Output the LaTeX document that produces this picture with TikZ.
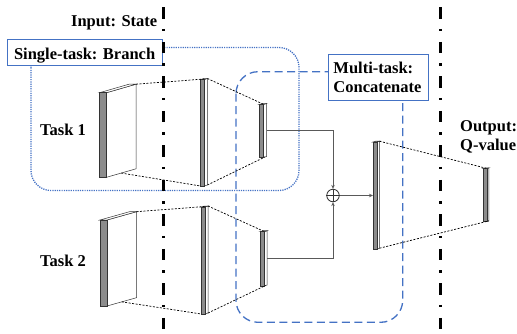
\documentclass[tikz,border=0pt]{standalone}
\usepackage{fontspec}
\setmainfont{Liberation Serif}
\usetikzlibrary{arrows.meta}

\definecolor{office}{HTML}{4472C4}
\newcommand{\headfont}{\fontsize{16.5}{19}\selectfont\bfseries}

\tikzset{
    divider/.style = {
        line width=3pt,
        black,
        dash pattern=on 11.5pt off 10pt on 2.5pt off 10.5pt
    },
    proj/.style = {
        line width=0.7pt,
        black,
        dash pattern=on 2pt off 1.5pt
    },
    wire/.style = {
        line width=0.8pt,
        black!65
    },
    single/.style = {
        line width=1.3pt,
        office,
        dash pattern=on 1.2pt off 1.1pt
    },
    multi/.style = {
        line width=1.3pt,
        office,
        dash pattern=on 8pt off 4.5pt
    },
    tag/.style = {
        draw=office,
        line width=0.9pt,
        fill=white,
        inner sep=0pt,
        font=\headfont
    },
    heading/.style = {
        inner sep=0pt,
        font=\headfont
    },
    slabfront/.style = {
        fill=black!45,
        draw=black!80,
        line width=0.5pt
    },
    slabside/.style = {
        fill=white,
        draw=black!80,
        line width=0.5pt
    }
}

% name, x, top y, width, height, depth dx, depth rise
\newcommand{\slab}[7]{%
    \filldraw[slabside] (#2+#4,#3) -- (#2+#4+#6,#3-#7) -- (#2+#4+#6,#3+#5-#7) -- (#2+#4,#3+#5) -- cycle;
    \filldraw[slabside] (#2,#3) -- (#2+#6,#3-#7) -- (#2+#4+#6,#3-#7) -- (#2+#4,#3) -- cycle;
    \filldraw[slabfront] (#2,#3) rectangle (#2+#4,#3+#5);
    \coordinate (#1-tm) at (#2+#4/2+#6/2,#3-#7/2);
    \coordinate (#1-tr) at (#2+#4+#6,#3-#7);
    \coordinate (#1-bl) at (#2,#3+#5);
    \coordinate (#1-bm) at (#2+#4+#6/2,#3+#5-#7/2);
    \coordinate (#1-br) at (#2+#4+#6,#3+#5-#7);
    \coordinate (#1-e) at (#2+#4+#6,#3+#5/2-#7/2);
    \coordinate (#1-w) at (#2,#3+#5/2);
}

\begin{document}
\begin{tikzpicture}[x=1pt,y=-1pt]
    \useasboundingbox (0,0) rectangle (517,333);

    % Draw the groupings
    \draw[single, rounded corners=20pt] (31,47.5) rectangle (299,190.5);
    \draw[multi, rounded corners=22pt] (236,71.7) rectangle (402.7,322.3);

    % Draw all layers
    \slab{inA}{99.5}{92.7}{7}{84.6}{29.5}{8.5}
    \slab{midA}{200.7}{79.5}{3.5}{106.5}{3.2}{1}
    \slab{smA}{259.3}{104.5}{4}{53}{3.2}{1}
    \slab{inB}{100}{220}{7}{86}{29.5}{8.3}
    \slab{midB}{201.3}{207}{3.5}{107}{3.2}{1}
    \slab{smB}{260}{231.7}{4}{54.3}{3.2}{1}
    \slab{cat}{373}{142}{4}{107}{2.5}{0.8}
    \slab{out}{483.3}{168.5}{3.5}{53}{2}{0.6}

    \draw[proj] (inA-tr) -- (midA-tm) (inA-bm) -- (midA-bl);
    \draw[proj] (midA-tr) -- (smA-tm) (midA-br) -- (smA-bm);
    \draw[proj] (inB-tr) -- (midB-tm) (inB-bm) -- (midB-bl);
    \draw[proj] (midB-tr) -- (smB-tm) (midB-br) -- (smB-bm);
    \draw[proj] (cat-tr) -- (out-tm) (cat-br) -- (out-br);

    % Draw the sum
    \node[draw=black!80, circle, minimum size=12.5pt, inner sep=0pt, line width=0.8pt] (sum) at (333,195.5) {};
    \draw[black!80, line width=0.8pt] (sum.north) -- (sum.south) (sum.west) -- (sum.east);

    \draw[wire, -{Stealth[length=4pt,width=3.5pt]}] (smA-e) -| (sum.north);
    \draw[wire, -{Stealth[length=4pt,width=3.5pt]}] (smB-e) -| (sum.south);
    \draw[wire, -{Stealth[length=4pt,width=3.5pt]}] (sum.east) -- (cat-w);

    % Draw boxes
    \node[tag, anchor=north west, minimum width=155pt, minimum height=25.7pt, text height=13pt, text depth=0pt] (branch) at (6.7,39.3) {Single-task: Branch};
    \node[tag, anchor=north west, minimum width=100pt, minimum height=46pt, text width=90.6pt, inner xsep=4.7pt, align=left] (concat) at (328.3,54) {Multi-task:\\Concatenate};

    % Draw dividers
    \draw[divider] (163,7.3) -- (163,333);
    \draw[divider] (440,7.3) -- (440,333);

    % Draw labels
    \node[heading, anchor=base east] (input) at (157.5,26.7) {Input: State};
    \node[heading, anchor=base west] (taskA) at (40,135) {Task 1};
    \node[heading, anchor=base west] (taskB) at (40,266.7) {Task 2};
    \node[heading, anchor=north west, align=left] (output) at (460,120) {Output:\\Q-value};
\end{tikzpicture}
\end{document}
